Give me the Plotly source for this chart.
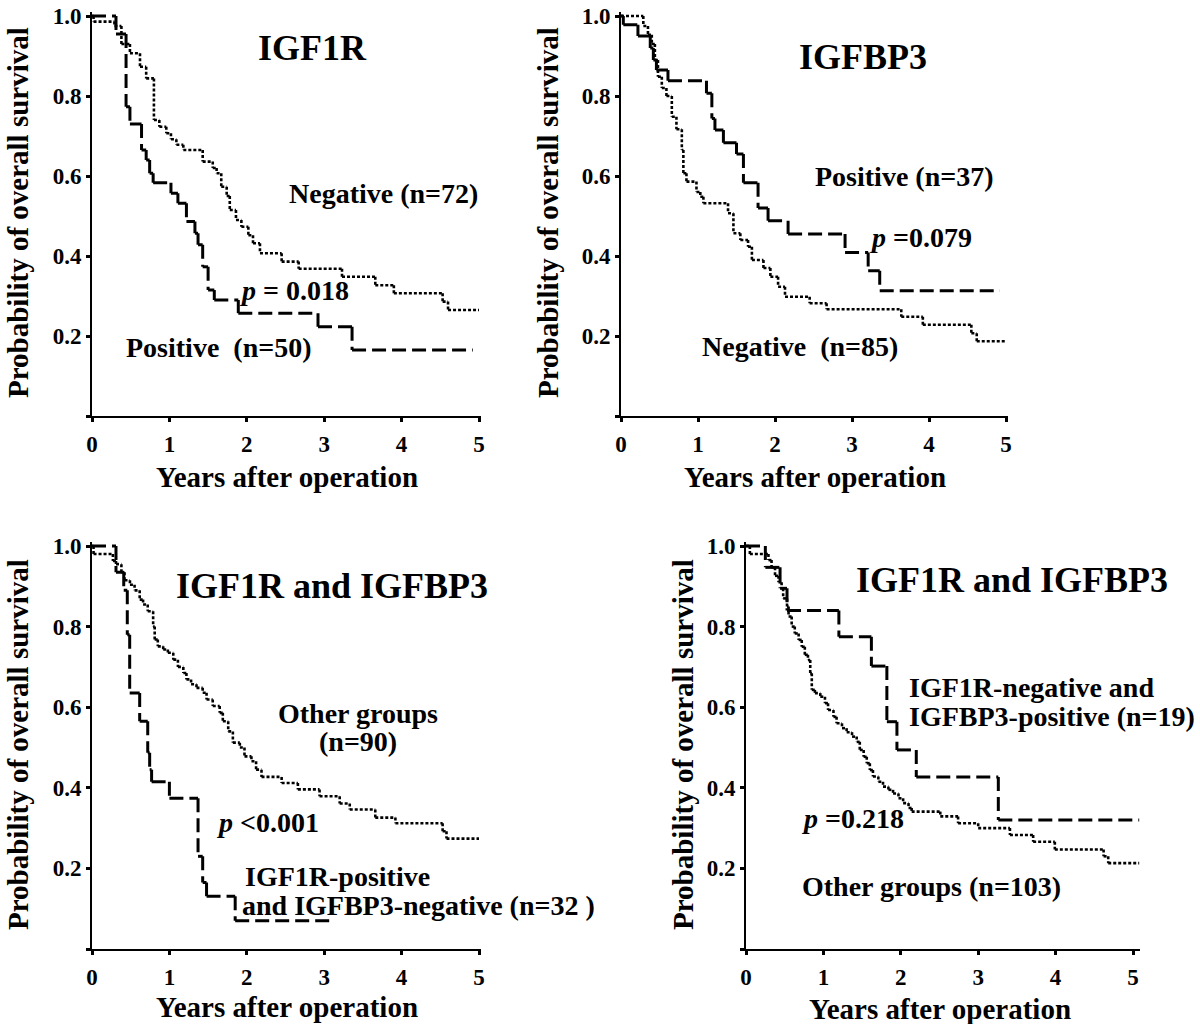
import plotly.graph_objects as go

FONT = "Liberation Serif"
W, H = 1200, 1024

# ---------------- data (years, survival probability) ----------------
# Panel 1: IGF1R
igf1r_neg_t = [0, 0.02, 0.29, 0.38, 0.49, 0.62, 0.70, 0.80, 0.87, 0.96, 1.02, 1.09, 1.18, 1.43, 1.56, 1.61,
               1.67, 1.74, 1.78, 1.86, 1.93, 2.02, 2.08, 2.17, 2.45, 2.67, 3.23, 3.66, 3.90, 4.53, 4.60]
igf1r_neg_s = [1.0, 0.986, 0.975, 0.93, 0.907, 0.873, 0.844, 0.74, 0.723, 0.707, 0.692, 0.678, 0.665, 0.636, 0.62, 0.607,
               0.573, 0.55, 0.515, 0.49, 0.473, 0.452, 0.432, 0.407, 0.386, 0.368, 0.348, 0.327, 0.307, 0.286, 0.265]
igf1r_neg_end = 5.0
igf1r_pos_t = [0, 0.31, 0.44, 0.49, 0.64, 0.70, 0.745, 0.79, 1.02, 1.11, 1.22, 1.33, 1.37, 1.43, 1.50, 1.58, 1.89, 2.92, 3.36]
igf1r_pos_s = [1.0, 0.955, 0.773, 0.73, 0.665, 0.64, 0.607, 0.583, 0.557, 0.532, 0.486, 0.457, 0.428, 0.373, 0.315, 0.29,
               0.257, 0.223, 0.165]
igf1r_pos_end = 4.92

# Panel 2: IGFBP3
igfbp3_pos_t = [0, 0.03, 0.22, 0.38, 0.42, 0.46, 0.61, 1.11, 1.18, 1.22, 1.33, 1.50, 1.59, 1.78, 1.91, 2.17, 2.91, 3.21, 3.36]
igfbp3_pos_s = [1.0, 0.978, 0.95, 0.92, 0.89, 0.865, 0.838, 0.807, 0.744, 0.715, 0.683, 0.655, 0.583, 0.52, 0.488, 0.455,
                0.409, 0.363, 0.313]
igfbp3_pos_end = 4.92
igfbp3_neg_t = [0, 0.29, 0.35, 0.40, 0.44, 0.48, 0.53, 0.59, 0.66, 0.72, 0.79, 0.81, 0.85, 0.98, 1.03, 1.07, 1.39, 1.46,
                1.55, 1.65, 1.70, 1.85, 1.94, 2.04, 2.13, 2.45, 2.67, 3.64, 3.92, 4.55, 4.62]
igfbp3_neg_s = [1.0, 0.975, 0.953, 0.93, 0.89, 0.848, 0.82, 0.80, 0.748, 0.717, 0.665, 0.607, 0.586, 0.56, 0.548, 0.532,
                0.507, 0.457, 0.44, 0.423, 0.39, 0.37, 0.348, 0.323, 0.298, 0.282, 0.267, 0.248, 0.228, 0.207, 0.187]
igfbp3_neg_end = 5.0

# Panel 3: IGF1R-positive and IGFBP3-negative vs other groups
comb1_pos_t = [0, 0.31, 0.41, 0.456, 0.487, 0.616, 0.72, 0.745, 0.77, 1.0, 1.37, 1.43, 1.48, 1.85]
comb1_pos_s = [1.0, 0.935, 0.89, 0.78, 0.635, 0.565, 0.487, 0.445, 0.415, 0.374, 0.23, 0.165, 0.131, 0.07]
comb1_pos_end = 3.14
comb1_oth_t = [0, 0.02, 0.27, 0.31, 0.38, 0.42, 0.49, 0.55, 0.616, 0.66, 0.72, 0.79, 0.81, 0.85, 0.92, 0.98, 1.05, 1.11,
               1.18, 1.22, 1.28, 1.35, 1.43, 1.48, 1.56, 1.65, 1.69, 1.76, 1.82, 1.91, 1.97, 2.06, 2.12, 2.19, 2.45, 2.66,
               2.94, 3.2, 3.33, 3.66, 3.92, 4.53, 4.58]
comb1_oth_s = [1.0, 0.98, 0.963, 0.955, 0.935, 0.915, 0.904, 0.89, 0.867, 0.855, 0.838, 0.80, 0.768, 0.751, 0.743, 0.735,
               0.718, 0.70, 0.685, 0.669, 0.657, 0.648, 0.636, 0.619, 0.603, 0.586, 0.565, 0.54, 0.512, 0.50, 0.478, 0.466,
               0.445, 0.427, 0.412, 0.396, 0.379, 0.361, 0.346, 0.326, 0.312, 0.292, 0.274]
comb1_oth_end = 5.0

# Panel 4: IGF1R-negative and IGFBP3-positive vs other groups
comb2_pos_t = [0, 0.25, 0.44, 0.53, 1.20, 1.62, 1.82, 1.95, 2.20, 3.26]
comb2_pos_s = [1.0, 0.947, 0.895, 0.84, 0.775, 0.702, 0.564, 0.494, 0.427, 0.32]
comb2_pos_end = 5.08
comb2_oth_t = [0, 0.05, 0.29, 0.33, 0.375, 0.42, 0.46, 0.48, 0.53, 0.55, 0.59, 0.63, 0.68, 0.72, 0.76, 0.80, 0.83, 0.85,
               0.89, 0.96, 1.02, 1.06, 1.13, 1.17, 1.24, 1.30, 1.37, 1.43, 1.47, 1.52, 1.56, 1.60, 1.64, 1.71, 1.77, 1.84,
               1.90, 1.97, 2.03, 2.10, 2.14, 2.51, 2.74, 3.0, 3.41, 3.71, 3.99, 4.62, 4.68]
comb2_oth_s = [1.0, 0.98, 0.965, 0.947, 0.926, 0.91, 0.895, 0.87, 0.85, 0.825, 0.80, 0.783, 0.767, 0.75, 0.73, 0.717,
               0.684, 0.643, 0.635, 0.626, 0.61, 0.593, 0.576, 0.56, 0.548, 0.538, 0.527, 0.514, 0.494, 0.477, 0.461,
               0.444, 0.428, 0.415, 0.403, 0.395, 0.386, 0.374, 0.362, 0.35, 0.341, 0.329, 0.312, 0.30, 0.283, 0.266,
               0.247, 0.23, 0.213]
comb2_oth_end = 5.08

x_ticks = [0, 1, 2, 3, 4, 5]
y_ticks = [0, 0.2, 0.4, 0.6, 0.8, 1.0]
y_ticktext = ["", "0.2", "0.4", "0.6", "0.8", "1.0"]

titles = ["IGF1R", "IGFBP3", "IGF1R and IGFBP3", "IGF1R and IGFBP3"]
x_title = "Years after operation"
y_title = "Probability of overall survival"

# ---------------- helpers ----------------
def km_segments(t, s, t_end):
    """Each horizontal / vertical piece of the step curve is its own sub-path."""
    assert len(t) == len(s)
    xs, ys = [], []
    n = len(t)
    for i in range(n):
        t_next = t[i + 1] if i + 1 < n else t_end
        xs += [t[i], t_next, None]
        ys += [s[i], s[i], None]
        if i + 1 < n:
            xs += [t_next, t_next, None]
            ys += [s[i], s[i + 1], None]
    return xs, ys

DASHED = dict(color="black", width=3, dash="14px,6px")
DOTTED = dict(color="black", width=2.6, dash="3px,2px")

# panel geometry in pixels: x of t=0, px per year, y of s=0, px per unit, x max, y max
panels = [
    dict(x0=92, ppx=77.4, y0=416, ppy=400, xmax=5.03, ymax=1.01),
    dict(x0=621, ppx=77.0, y0=416, ppy=400, xmax=5.03, ymax=1.01),
    dict(x0=92, ppx=77.4, y0=949, ppy=403, xmax=5.03, ymax=1.01),
    dict(x0=746, ppx=77.4, y0=949, ppy=403, xmax=5.09, ymax=1.01),
]

curves = [
    [(igf1r_neg_t, igf1r_neg_s, igf1r_neg_end, DOTTED), (igf1r_pos_t, igf1r_pos_s, igf1r_pos_end, DASHED)],
    [(igfbp3_neg_t, igfbp3_neg_s, igfbp3_neg_end, DOTTED), (igfbp3_pos_t, igfbp3_pos_s, igfbp3_pos_end, DASHED)],
    [(comb1_oth_t, comb1_oth_s, comb1_oth_end, DOTTED), (comb1_pos_t, comb1_pos_s, comb1_pos_end, DASHED)],
    [(comb2_oth_t, comb2_oth_s, comb2_oth_end, DOTTED), (comb2_pos_t, comb2_pos_s, comb2_pos_end, DASHED)],
]

fig = go.Figure()
layout = dict(
    width=W, height=H, margin=dict(l=0, r=0, t=0, b=0, autoexpand=False),
    paper_bgcolor="white", plot_bgcolor="white", showlegend=False,
    font=dict(family=FONT, color="black"),
)

tickfont = dict(family=FONT, size=23, color="black", weight="bold")

for k, (p, cs) in enumerate(zip(panels, curves)):
    idx = "" if k == 0 else str(k + 1)
    xd = [p["x0"] / W, (p["x0"] + p["ppx"] * p["xmax"]) / W]
    yd = [1 - p["y0"] / H, 1 - (p["y0"] - p["ppy"] * p["ymax"]) / H]
    layout["xaxis" + idx] = dict(
        domain=xd, range=[0, p["xmax"]], anchor="y" + idx, automargin=False,
        showline=True, linecolor="black", linewidth=2, mirror=False,
        ticks="outside", ticklen=4, tickwidth=2.5, tickcolor="black",
        tickvals=x_ticks, ticktext=[str(v) for v in x_ticks], tickfont=tickfont,
        showgrid=False, zeroline=False, ticklabelstandoff=2,
    )
    layout["yaxis" + idx] = dict(
        domain=yd, range=[0, p["ymax"]], anchor="x" + idx, automargin=False,
        showline=True, linecolor="black", linewidth=2,
        ticks="outside", ticklen=4, tickwidth=2.5, tickcolor="black",
        tickvals=y_ticks, ticktext=y_ticktext, tickfont=tickfont,
        showgrid=False, zeroline=False,
    )
    for (t, s, te, style) in cs:
        xs, ys = km_segments(t, s, te)
        fig.add_trace(go.Scatter(x=xs, y=ys, mode="lines", line=style, connectgaps=False,
                                 xaxis="x" + idx, yaxis="y" + idx, hoverinfo="skip"))

# ---------------- text ----------------
def ann(text, px, py, size, angle=0, xanchor="center"):
    return dict(text=text, x=px / W, y=1 - py / H, xref="paper", yref="paper",
                xanchor=xanchor, yanchor="middle", showarrow=False, textangle=angle,
                font=dict(family=FONT, size=size, color="black", weight="bold"))

LAB = 28
AX = 29
annotations = [
    ann(titles[0], 313, 48, 36),
    ann(titles[1], 863, 57, 36),
    ann(titles[2], 332, 586, 36),
    ann(titles[3], 1012, 580, 36),
    ann("Negative (n=72)", 383, 193, LAB),
    ann("<i>p</i> = 0.018", 294, 290, LAB),
    ann("Positive&nbsp; (n=50)", 219, 347, LAB),
    ann("Positive (n=37)", 904, 176, LAB),
    ann("<i>p</i> =0.079", 921, 237, LAB),
    ann("Negative&nbsp; (n=85)", 800, 346, LAB),
    ann("Other groups", 358, 713, LAB),
    ann("(n=90)", 358, 741, LAB),
    ann("<i>p</i> &lt;0.001", 268, 822, LAB),
    ann("IGF1R-positive", 243, 876, LAB, xanchor="left"),
    ann("and IGFBP3-negative (n=32 )", 240, 905, LAB, xanchor="left"),
    ann("IGF1R-negative and", 907, 687, LAB, xanchor="left"),
    ann("IGFBP3-positive (n=19)", 907, 716, LAB, xanchor="left"),
    ann("<i>p</i> =0.218", 853, 818, LAB),
    ann("Other groups (n=103)", 932, 886, LAB),
    ann(x_title, 287, 477, AX),
    ann(x_title, 815, 477, AX),
    ann(x_title, 287, 1007, AX),
    ann(x_title, 940, 1009, AX),
    ann(y_title, 18, 213, AX, angle=-90),
    ann(y_title, 548, 213, AX, angle=-90),
    ann(y_title, 18, 745, AX, angle=-90),
    ann(y_title, 683, 745, AX, angle=-90),
]
layout["annotations"] = annotations
fig.update_layout(**layout)

fig.write_html("out.html", config={"displayModeBar": False},
               post_script="document.body.style.margin='0';document.body.style.padding='0';")
